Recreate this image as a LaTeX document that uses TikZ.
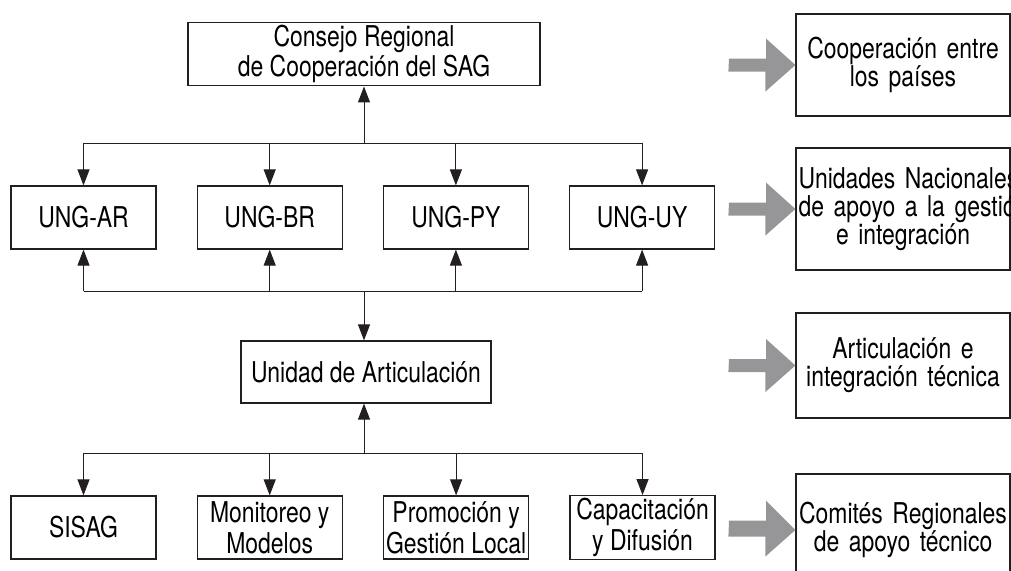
\documentclass[tikz,border=0pt]{standalone}
\usepackage{fontspec}
\setmainfont{TeX Gyre Heros}[FakeStretch=0.8]
\usetikzlibrary{positioning, arrows.meta}
\definecolor{ink}{RGB}{35,31,32}
\definecolor{arrowgray}{RGB}{150,150,152}
\newcommand{\grayarrow}[2]{\fill[arrowgray] (#1) ++(0,-6.5) -- ++(37,0) -- ++(0,-20) -- (#2.west) -- ++(-30,26.5) -- ++(0,-20) -- ++(-37,0) -- cycle;}

\begin{document}
\begin{tikzpicture}[x=0.75pt, y=-0.75pt, >={Triangle[length=12pt, width=9pt]}, node distance=30pt,
  unit/.style={draw=ink, line width=0.9pt, align=center, inner sep=2pt,
    minimum width=108.75pt, minimum height=47.25pt, font=\fontsize{21.5}{23}\selectfont},
  role/.style={draw=ink, line width=0.9pt, align=center, inner sep=2pt,
    text width=156.5pt, font=\fontsize{21.5}{21}\selectfont},
  link/.style={ink, line width=0.75pt}]
  \useasboundingbox (0,0) rectangle (1011,571);

  \node[unit, minimum width=264pt, minimum height=45pt] (CR) at (364,54) {Consejo Regional\\de Cooperación del SAG};
  \node[unit] (AR) at (83.5,217.5) {UNG-AR};
  \node[unit, right=of AR] (BR) {UNG-BR};
  \node[unit, right=of BR] (PY) {UNG-PY};
  \node[unit, right=of PY] (UY) {UNG-UY};
  \node[unit, minimum width=187.5pt, minimum height=46.5pt] (UA) at (366,372) {Unidad de Articulación};
  \node[unit] (SI) at (83.5,527.5) {SISAG};
  \node[unit, right=of SI] (MM) {Monitoreo y\\Modelos};
  \node[unit, right=of MM] (PG) {Promoción y\\Gestión Local};
  \node[unit, right=of PG] (CD) {Capacitación\\y Difusión};

  \node[role, minimum height=76.5pt] (R1) at (903,65) {Cooperación entre\\los países};
  \node[role, minimum height=91.5pt] (R2) at (903,209) {\mbox{Unidades Nacionales}\\\mbox{de apoyo a la gestión}\\e integración};
  \node[role, minimum height=78.75pt] (R3) at (903,365.5) {Articulación e\\integración técnica};
  \node[role, minimum height=84pt] (R4) at (903,530) {Comités Regionales\\de apoyo técnico};

  \coordinate (b1) at (364,143);
  \coordinate (b2) at (364,291);
  \coordinate (b3) at (364,453);

  % consejo and national units
  \draw[link, ->] (b1) -- (CR);
  \draw[link] (AR |- b1) -- (UY |- b1);
  \draw[link, ->] (AR |- b1) -- (AR);
  \draw[link, ->] (BR |- b1) -- (BR);
  \draw[link, ->] (PY |- b1) -- (PY);
  \draw[link, ->] (UY |- b1) -- (UY);

  \draw[link] (AR |- b2) -- (UY |- b2);
  \draw[link, ->] (AR |- b2) -- (AR);
  \draw[link, ->] (BR |- b2) -- (BR);
  \draw[link, ->] (PY |- b2) -- (PY);
  \draw[link, ->] (UY |- b2) -- (UY);
  \draw[link, ->] (b2) -- (b2 |- UA.north);

  % articulation and technical areas
  \draw[link, ->] (b3) -- (b3 |- UA.south);
  \draw[link] (SI |- b3) -- (CD |- b3);
  \draw[link, ->] (SI |- b3) -- (SI);
  \draw[link, ->] (MM |- b3) -- (MM);
  \draw[link, ->] (PG |- b3) -- (PG);
  \draw[link, ->] (CD |- b3) -- (CD);

  % gray arrows to the roles
  \coordinate (g1) at (729,65);
  \coordinate (g2) at (729,209);
  \coordinate (g3) at (729,365.5);
  \coordinate (g4) at (729,527);
  \grayarrow{g1}{R1}
  \grayarrow{g2}{R2}
  \grayarrow{g3}{R3}
  \grayarrow{g4}{R4}
\end{tikzpicture}
\end{document}
